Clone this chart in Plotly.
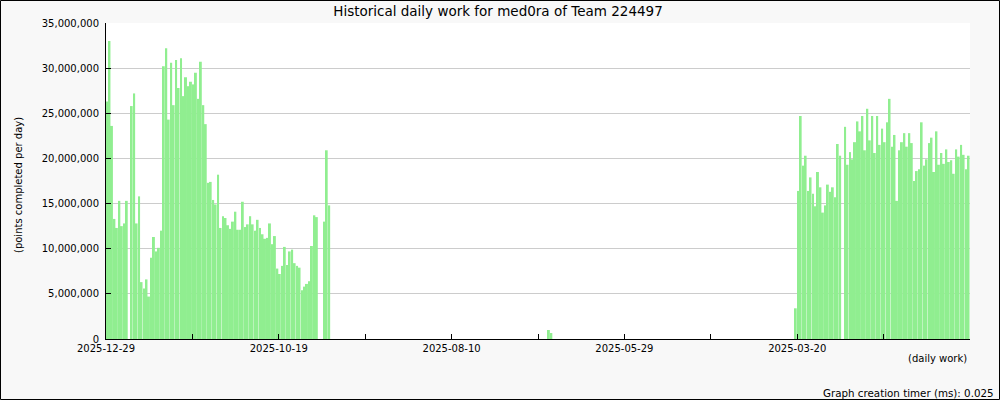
import plotly.graph_objects as go

# ---- data (values in millions of points per day) ----
# Day index 0 = 2025-12-29 (left edge), increasing to the right (going back in time)
block1_start = 0
block1_values = [
    26.3, 33.0, 23.6, 13.3, 12.3, 15.3, 12.5, 12.8, 15.3, 0.0,
    25.8, 27.2, 12.8, 15.8, 6.3, 5.6, 6.6, 4.7, 9.0, 11.3,
    9.7, 10.1, 12.0, 30.2, 32.2, 24.3, 30.6, 25.9, 30.9, 27.8,
    31.1, 26.9, 29.0, 28.0, 28.5, 28.2, 29.5, 26.6, 30.7, 25.9,
    23.8, 17.3, 17.4, 15.4, 14.9, 18.2, 12.3, 13.6, 13.4, 12.6,
    12.2, 13.0, 14.1, 12.1, 12.1, 15.2, 12.4, 12.7, 13.6, 12.7,
    12.0, 13.2, 12.3, 11.6, 11.1, 11.2, 12.8, 10.5, 11.4, 7.8,
    7.2, 8.1, 10.2, 8.2, 9.7, 9.9, 8.4, 8.1, 7.9, 5.4,
    5.8, 6.1, 6.4, 10.3, 13.7, 13.5, 0.0, 0.0, 13.0, 20.9,
    14.8,
]
block2_start = 179
block2_values = [1.0, 0.66]
block3_start = 279
block3_values = [
    3.4, 16.4, 24.7, 19.2, 20.3, 16.4, 17.9, 16.1, 14.7, 18.5,
    16.8, 14.0, 14.8, 17.1, 16.3, 16.8, 15.7, 21.6, 20.3, 0.0,
    23.5, 19.3, 20.7, 19.9, 21.8, 24.1, 23.0, 24.7, 20.9, 25.5,
    22.0, 24.7, 20.6, 24.7, 21.5, 23.3, 21.8, 24.0, 26.6, 21.3,
    22.6, 15.3, 20.9, 21.8, 22.8, 21.3, 22.8, 21.7, 17.5, 18.6,
    18.8, 24.0, 19.2, 19.9, 21.7, 22.3, 18.5, 23.0, 19.3, 20.6,
    19.4, 21.0, 19.6, 19.8, 18.3, 21.0, 20.2, 21.5, 20.4, 18.8,
    20.3,
]

total_days = 350
tick_days = [0, 35, 70, 105, 140, 175, 210, 245, 280, 315, 350]
tick_labels = ["2025-12-29", "", "2025-10-19", "", "2025-08-10", "",
               "2025-05-29", "", "2025-03-20", "", ""]
y_ticks = [0, 5e6, 10e6, 15e6, 20e6, 25e6, 30e6, 35e6]

title_text = "Historical daily work for med0ra of Team 224497"
y_title = "(points completed per day)"
x_title = "(daily work)"
footer = "Graph creation timer (ms): 0.025"

# ---- build bars ----
days, vals = [], []
for start, block in [(block1_start, block1_values), (block2_start, block2_values),
                     (block3_start, block3_values)]:
    for k, v in enumerate(block):
        if v > 0:
            days.append(start + k)
            vals.append(v * 1e6)

FONT = "DejaVu Sans"
L, R, T, B = 106, 30, 23, 61
W, H = 1000, 400
pw, ph = W - L - R, H - T - B

def px(xp):
    return (xp - L) / pw

def py(yp):
    return (H - B - yp) / ph

fig = go.Figure()
fig.add_trace(go.Bar(
    x=[d + 0.4 for d in days], y=vals, width=0.8,
    marker=dict(color="#90ee90", line=dict(width=0)),
    hoverinfo="skip", showlegend=False,
))

fig.update_layout(
    width=W, height=H,
    margin=dict(l=L, r=R, t=T, b=B, pad=0),
    paper_bgcolor="#f8f8f8", plot_bgcolor="#ffffff",
    font=dict(family=FONT, size=10, color="#000000"),
    title=dict(text=title_text, x=0.498, xref="container", xanchor="center",
               y=1 - 11 / H, yref="container", yanchor="middle",
               font=dict(family=FONT, size=13.5, color="#000000")),
    showlegend=False,
)
fig.update_xaxes(
    range=[0, total_days], tickmode="array", tickvals=tick_days, ticktext=tick_labels,
    ticks="inside", ticklen=5, tickwidth=1, tickcolor="#000000",
    showline=True, linecolor="#000000", linewidth=1,
    showgrid=False, zeroline=False, tickfont=dict(size=10, family=FONT),
)
fig.update_yaxes(
    range=[0, 35e6], tickmode="array", tickvals=y_ticks, tickformat=",d",
    ticks="inside", ticklen=5, tickwidth=1, tickcolor="#000000",
    showline=True, linecolor="#000000", linewidth=1,
    showgrid=True, gridcolor="#cccccc", gridwidth=1, zeroline=False,
    tickfont=dict(size=10, family=FONT), ticklabelstandoff=4,
)

fig.add_annotation(text=y_title, xref="paper", yref="paper", x=px(18), y=py(185),
                   textangle=-90, showarrow=False, xanchor="center", yanchor="middle",
                   font=dict(size=10, family=FONT))
fig.add_annotation(text=x_title, xref="paper", yref="paper", x=px(969), y=py(358),
                   showarrow=False, xanchor="right", yanchor="middle",
                   font=dict(size=10, family=FONT))
fig.add_annotation(text=footer, xref="paper", yref="paper", x=px(996), y=py(393),
                   showarrow=False, xanchor="right", yanchor="middle",
                   font=dict(size=10.3, family=FONT))
fig.add_shape(type="rect", xref="paper", yref="paper",
              x0=px(0.5), x1=px(999.5), y0=py(399.5), y1=py(0.5),
              line=dict(color="#000000", width=1), fillcolor="rgba(0,0,0,0)", layer="above")

fig.write_html("out.html", config={"displayModeBar": False},
               post_script="document.body.style.margin='0';document.body.style.padding='0';")
